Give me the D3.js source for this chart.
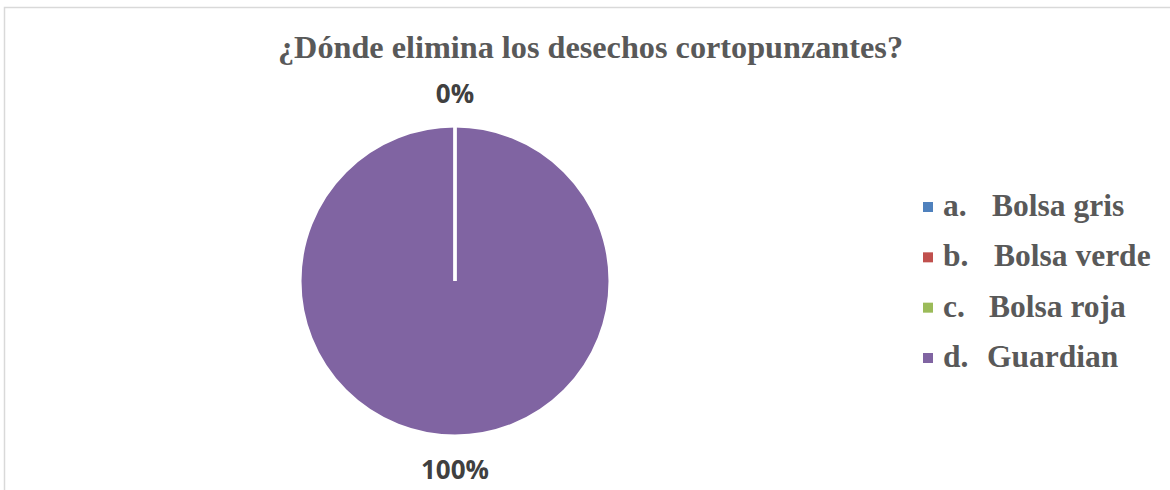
<!DOCTYPE html>
<html>
<head>
<meta charset="utf-8">
<script src="https://cdn.jsdelivr.net/npm/d3@7"></script>
<style>
  html, body { margin: 0; padding: 0; background: #fff; }
  svg { display: block; }
</style>
</head>
<body>
<svg id="chart" width="1170" height="490"></svg>
<script>
// Survey answers: where sharps waste is disposed of
const categories = ["a.", "b.", "c.", "d."];
const categoryNames = ["Bolsa gris", "Bolsa verde", "Bolsa roja", "Guardian"];
const values = [0, 0, 0, 100];
const colors = ["#4f81bd", "#c0504d", "#9bbb59", "#8064a2"];
const title = "¿Dónde elimina los desechos cortopunzantes?";

const svg = d3.select("#chart");
const W = 1170, H = 490;
const serif = "'Liberation Serif', 'Times New Roman', serif";

// Chart area frame
svg.append("path")
  .attr("d", `M4.5,${H} V7.5 H${W}`)
  .attr("fill", "none")
  .attr("stroke", "#d9d9d9")
  .attr("stroke-width", 1.5);

// Title
svg.append("text")
  .attr("x", 278)
  .attr("y", 58)
  .attr("font-family", serif)
  .attr("font-weight", "bold")
  .attr("font-size", 31.5)
  .attr("textLength", 625)
  .attr("lengthAdjust", "spacingAndGlyphs")
  .attr("fill", "#595959")
  .text(title);

// Pie
const cx = 455, cy = 281, r = 155;
const data = categories.map((c, i) => ({ key: c, name: categoryNames[i], value: values[i], color: colors[i] }));
const pie = d3.pie().sort(null).value(d => d.value);
const arcs = pie(data);
const arc = d3.arc().innerRadius(0).outerRadius(r);

const g = svg.append("g").attr("transform", `translate(${cx},${cy})`);
// later slices first so the white borders of the empty slices stay visible
g.selectAll("path.slice")
  .data(arcs.slice().reverse())
  .join("path")
  .attr("class", "slice")
  .attr("d", arc)
  .attr("fill", d => d.data.color)
  .attr("stroke", "#fff")
  .attr("stroke-width", 3)
  .attr("stroke-linejoin", "miter");

// Percent labels outside the slices (zero slices share one position)
const total = d3.sum(values);
const fmt = d => Math.round(d.data.value / total * 100) + "%";
const labelArc = d3.arc().innerRadius(r + 33).outerRadius(r + 33);
const seen = new Set();
const labelData = arcs.filter(d => {
  const k = fmt(d) + "|" + labelArc.centroid(d).map(Math.round).join(",");
  if (seen.has(k)) return false;
  seen.add(k);
  return true;
});
g.selectAll("text.pct")
  .data(labelData)
  .join("text")
  .attr("class", "pct")
  .attr("transform", d => `translate(${labelArc.centroid(d)})`)
  .attr("text-anchor", "middle")
  .attr("dominant-baseline", "central")
  .attr("font-family", "'Open Sans', 'Noto Sans', sans-serif")
  .attr("font-weight", "bold")
  .attr("font-size", 26)
  .attr("fill", "#404040")
  .text(fmt);

// Legend
const legendY = d3.scalePoint().domain(categories).range([207, 358]);
const legend = svg.append("g");
const items = legend.selectAll("g.item")
  .data(data)
  .join("g")
  .attr("class", "item")
  .attr("transform", d => `translate(0,${legendY(d.key)})`);
items.append("rect")
  .attr("x", 923).attr("y", -5)
  .attr("width", 10).attr("height", 10)
  .attr("fill", d => d.color);
const nameX = { "a.": 992, "b.": 994, "c.": 989, "d.": 987 };
const lt = items.append("text")
  .attr("y", 9)
  .attr("font-family", serif)
  .attr("font-weight", "bold")
  .attr("font-size", 31.5)
  .attr("fill", "#595959");
lt.append("tspan").attr("x", 943).text(d => d.key);
lt.append("tspan").attr("x", d => nameX[d.key]).text(d => d.name);
</script>
</body>
</html>
